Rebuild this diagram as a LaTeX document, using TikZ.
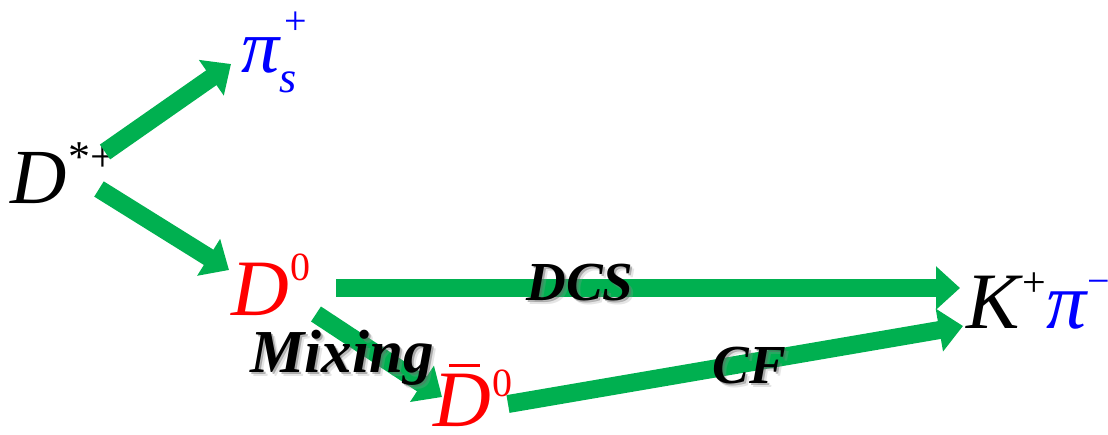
\documentclass[tikz,border=0pt]{standalone}
\usepackage{fontspec}
\setmainfont{Liberation Serif}
\usetikzlibrary{arrows.meta}
\definecolor{agreen}{RGB}{0,176,80}
\definecolor{pblue}{RGB}{0,0,255}
\definecolor{pred}{RGB}{255,0,0}
\newcommand\fsz[1]{\fontsize{#1}{#1}\selectfont}
\tikzset{
  bigarrow/.style={draw=agreen, line width=18pt, -{Triangle[length=24pt,width=42pt]}},
  particle/.style={inner sep=0pt, anchor=base west},
  proc/.style={inner sep=0pt, anchor=base, font=\fsz{55}\bfseries\itshape},
  procshadow/.style={proc, text=black!60, opacity=0.45},
  procshadowb/.style={proc, text=black!40, opacity=0.25}
}
\begin{document}
\begin{tikzpicture}[x=1pt,y=-1pt]
\useasboundingbox (0,0) rectangle (1108,434);
% particles
\node[particle] (Dstar) at (10,203) {\fsz{78}\itshape D\hspace{2pt}\raisebox{32pt}{\fsz{44}\upshape *+}};
\node[particle, text=pblue] (pis) at (241,72) {\fsz{76}\itshape π\raisebox{-20pt}{\fsz{44}s}\hspace{-12pt}\raisebox{38pt}{\fsz{40}\upshape +}};
\node[particle, text=pred] (D0) at (231,315) {\fsz{80}\itshape D\hspace{2pt}\raisebox{35pt}{\fsz{40}\upshape 0}};
\node[particle, text=pred, text depth=0pt] (D0bar) at (433,426) {\fsz{80}\itshape D\hspace{2pt}\raisebox{30pt}{\fsz{40}\upshape 0}};
\draw[pred, line width=3pt] (449,365) -- (480,365);
\node[particle] (Kpi) at (966,328) {\fsz{80}\itshape K\hspace{3pt}\raisebox{32pt}{\fsz{42}\upshape +}\textcolor{pblue}{π\hspace{1pt}\raisebox{34pt}{\fsz{40}\upshape −}}};
% arrow end points
\coordinate (a1s) at (105,152); \coordinate (a1e) at (231,64);
\coordinate (a2s) at (99,189);  \coordinate (a2e) at (229,270);
\coordinate (a3s) at (336,288); \coordinate (a3e) at (960,288);
\coordinate (a4s) at (316,314); \coordinate (a4e) at (442,397);
\coordinate (a5s) at (508,404); \coordinate (a5e) at (963,326);
\draw[bigarrow] (a1s) -- (a1e);
\draw[bigarrow] (a2s) -- (a2e);
\draw[bigarrow] (a3s) -- (a3e);
\draw[bigarrow] (a4s) -- (a4e);
\draw[bigarrow] (a5s) -- (a5e);
% process labels
\node[procshadowb] (DCSsh2) at (584,304) {DCS};
\node[procshadow] (DCSsh) at (582,302) {DCS};
\node[proc] (DCS) at (580,300) {DCS};
\node[procshadowb, font=\fsz{61}\bfseries\itshape] (Mixsh2) at (346,376) {Mixing};
\node[procshadow, font=\fsz{61}\bfseries\itshape] (Mixsh) at (344,374) {Mixing};
\node[proc, font=\fsz{61}\bfseries\itshape] (Mix) at (342,372) {Mixing};
\node[procshadowb] (CFsh2) at (753,387) {CF};
\node[procshadow] (CFsh) at (751,385) {CF};
\node[proc] (CF) at (749,383) {CF};
\end{tikzpicture}
\end{document}
